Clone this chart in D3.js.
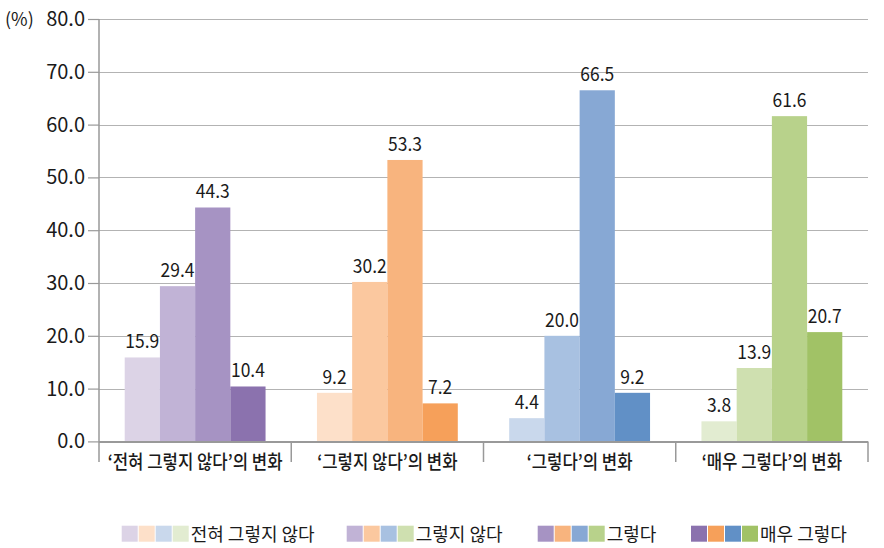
<!DOCTYPE html>
<html><head><meta charset="utf-8">
<script src="https://cdn.jsdelivr.net/npm/d3@7"></script>
<style>body{margin:0;background:#fff}svg{display:block}text{font-family:"Noto Sans CJK KR","Noto Sans",sans-serif;fill:#1a1a1a}</style>
</head><body><svg id="c" width="884" height="548"></svg>
<script>
const categories = ["‘전혀 그렇지 않다’의 변화","‘그렇지 않다’의 변화","‘그렇다’의 변화","‘매우 그렇다’의 변화"];
const seriesNames = ["전혀 그렇지 않다","그렇지 않다","그렇다","매우 그렇다"];
const values = [
  [15.9, 29.4, 44.3, 10.4],
  [9.2, 30.2, 53.3, 7.2],
  [4.4, 20.0, 66.5, 9.2],
  [3.8, 13.9, 61.6, 20.7]
];
const yTicks = [0,10,20,30,40,50,60,70,80];
const palette = [
  ["#dcd3e6","#c1b3d6","#a693c3","#8b72ae"],
  ["#fde0c9","#fbc89f","#f8b47e","#f6a05a"],
  ["#c9d8ec","#a8c1e1","#87a8d4","#6190c6"],
  ["#e2ecd1","#cfe0b0","#b8d28b","#a1c266"]
];

const svg = d3.select("#c");
const L = 99, R = 868, T = 19, B = 441.4;
const y = d3.scaleLinear().domain([0,80]).range([B,T]);
const x0 = d3.scaleBand().domain(categories).range([L,R]).padding(0);
const x1 = d3.scaleBand().domain(seriesNames).range([0,x0.bandwidth()]).paddingInner(0).paddingOuter(0.73);

// gridlines
svg.append("g").selectAll("line").data(yTicks.filter(d=>d>0)).join("line")
  .attr("x1",L).attr("x2",R).attr("y1",d=>Math.round(y(d))+0.5).attr("y2",d=>Math.round(y(d))+0.5)
  .attr("stroke","#b3b3b3").attr("stroke-width",1.2);

// y axis
const yAxis = svg.append("g").attr("transform",`translate(${L},0)`)
  .call(d3.axisLeft(y).tickValues(yTicks).tickSize(11).tickPadding(3).tickFormat(d3.format(".1f")));
yAxis.select(".domain").remove();
yAxis.selectAll(".tick line").attr("stroke","#999").attr("stroke-width",1.2);
yAxis.selectAll(".tick text").attr("font-size",20).attr("fill","#1a1a1a").style("font-family","'Noto Sans CJK KR'");
svg.append("line").attr("x1",L).attr("x2",L).attr("y1",T).attr("y2",462).attr("stroke","#999").attr("stroke-width",1.5);

svg.append("text").attr("x",5).attr("y",26).attr("font-size",18).text("(%)");

// bars
const groups = svg.append("g").selectAll("g").data(categories).join("g")
  .attr("transform",d=>`translate(${x0(d)},0)`);
groups.each(function(cat,ci){
  const g = d3.select(this);
  const data = seriesNames.map((s,si)=>({s,si,v:values[ci][si]}));
  g.selectAll("rect").data(data).join("rect")
    .attr("x",d=>x1(d.s)).attr("width",x1.bandwidth())
    .attr("y",d=>y(d.v)).attr("height",d=>B-y(d.v))
    .attr("fill",d=>palette[ci][d.si]);
  g.selectAll("text.v").data(data).join("text").attr("class","v")
    .attr("transform",d=>`translate(${x1(d.s)+x1.bandwidth()/2},${y(d.v)-9}) scale(0.92,1)`)
    .attr("text-anchor","middle").attr("font-size",19).text(d=>d.v.toFixed(1));
});

// x axis
svg.append("line").attr("x1",L).attr("x2",R).attr("y1",B+0.5).attr("y2",B+0.5).attr("stroke","#999").attr("stroke-width",2);
const bounds = categories.map(c=>x0(c)).concat([R]);
svg.append("g").selectAll("line").data(bounds.slice(1)).join("line")
  .attr("x1",d=>d).attr("x2",d=>d).attr("y1",B).attr("y2",462).attr("stroke","#999").attr("stroke-width",1.5);
svg.append("g").selectAll("text").data(categories).join("text")
  .attr("transform",d=>`translate(${x0(d)+x0.bandwidth()/2},469) scale(0.88,1)`)
  .attr("text-anchor","middle").attr("font-size",19).attr("font-weight",500).text(d=>d);

// legend
const legX = [121.7,346.7,537.7,691];
const leg = svg.append("g").selectAll("g").data(seriesNames).join("g")
  .attr("transform",(d,i)=>`translate(${legX[i]},525.7)`);
leg.each(function(s,si){
  const g = d3.select(this);
  g.selectAll("rect").data(palette).join("rect")
    .attr("x",(d,ci)=>ci*17).attr("y",0).attr("width",16).attr("height",16)
    .attr("fill",d=>d[si]);
  g.append("text").attr("x",69).attr("y",15)
    .attr("font-size",18).text(s);
});
</script></body></html>
